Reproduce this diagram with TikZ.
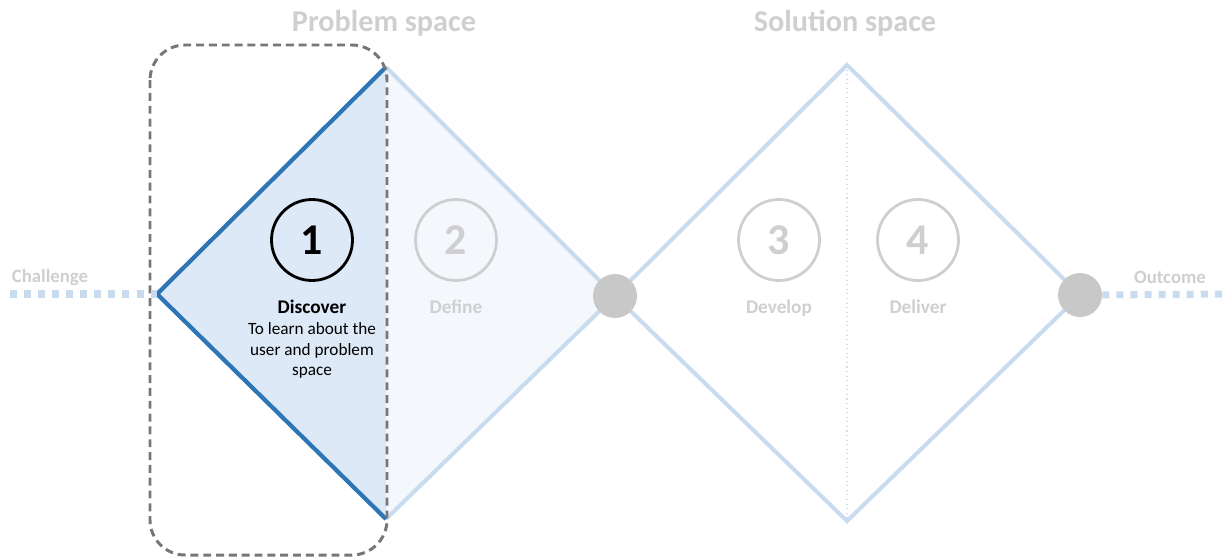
\documentclass[tikz,border=0pt]{standalone}
\usepackage{fontspec}
\setmainfont{Carlito}
\usetikzlibrary{positioning}
\definecolor{deepblue}{HTML}{2E75B6}
\definecolor{softblue}{HTML}{DDE9F6}
\definecolor{paleblue}{HTML}{C9DCEF}
\definecolor{faintblue}{HTML}{F4F8FD}
\definecolor{fadegray}{HTML}{CFCFCF}
\definecolor{dotgray}{HTML}{C8C8C8}
\definecolor{framegray}{HTML}{777777}
\tikzset{%
  % Specifications for style of nodes:
        phase/.style = {circle, draw=fadegray, line width=1.6pt,
                           inner sep=0pt, minimum size=1.62cm,
                           font=\bfseries\fontsize{25}{25}\selectfont,
                           text=fadegray},
        active/.style = {phase, draw=black, text=black},
        stage/.style = {font=\bfseries\fontsize{11}{13}\selectfont,
                           text=fadegray},
        space/.style = {font=\bfseries\fontsize{17.2}{20}\selectfont,
                           text=fadegray},
        endlabel/.style = {font=\bfseries\fontsize{10.7}{12}\selectfont,
                           text=fadegray},
        joint/.style = {circle, fill=dotgray, inner sep=0pt,
                           minimum size=0.88cm},
        trail/.style = {paleblue, line width=4pt,
                           dash pattern=on 4pt off 4pt}
}
\begin{document}
\begin{tikzpicture}[x=0.02cm, y=-0.02cm]
  \useasboundingbox (0,0) rectangle (1223,558);
  % Corners of the two diamonds
    \coordinate (start)  at (157,294);
    \coordinate (top1)   at (386,67);
    \coordinate (bot1)   at (386,519);
    \coordinate (mid)    at (615,296);
    \coordinate (top2)   at (847,65);
    \coordinate (bot2)   at (847,521);
    \coordinate (finish) at (1080,295);

  % Fills and outlines
  \fill[softblue]  (top1) -- (start) -- (bot1) -- cycle;
  \fill[faintblue] (top1) -- (mid) -- (bot1) -- cycle;
  \draw[paleblue, line width=2.3pt, line join=miter]
        (top1) -- (mid) -- (bot1);
  \draw[paleblue, line width=2.3pt] (mid) -- (top2) -- (finish)
        -- (bot2) -- cycle;
  \draw[paleblue, line width=0.6pt, dotted] (top2) -- (bot2);
  \draw[deepblue, line width=2.4pt, line join=miter]
        (top1) -- (start) -- (bot1);

  % Focus frame round the first phase
  \draw[framegray, line width=1.7pt, dash pattern=on 4.5pt off 2.8pt,
        rounded corners=20pt] (150,45) rectangle (387,555);

  % Joints and lead lines
    \node (midjoint) [joint] at (mid) {};
    \node (endjoint) [joint] at (finish) {};
  \draw[trail] (10,294) -- (start);
  \draw[trail] (endjoint.east) -- (1223,294);

  % Labels
    \node (challenge) [endlabel] at (50,277) {Challenge};
    \node (outcome)   [endlabel] at (1170,277) {Outcome};
    \node (problem)   [space] at (384,23) {Problem space};
    \node (solution)  [space] at (845,23) {Solution space};

  % Phases
    \node (one)   [active] at (312,240) {1};
    \node (two)   [phase]  at (456,240) {2};
    \node (three) [phase]  at (779,240) {3};
    \node (four)  [phase]  at (918,240) {4};
    \node (discover) [stage, text=black, below=0.24cm of one] {Discover};
    \node (learn) [below=-0.08cm of discover, align=center,
                   font=\fontsize{9.8}{11.9}\selectfont]
                  {To learn about the\\user and problem\\space};
    \node (define)  [stage, below=0.24cm of two] {Define};
    \node (develop) [stage, below=0.24cm of three] {Develop};
    \node (deliver) [stage, below=0.24cm of four] {Deliver};
\end{tikzpicture}
\end{document}
